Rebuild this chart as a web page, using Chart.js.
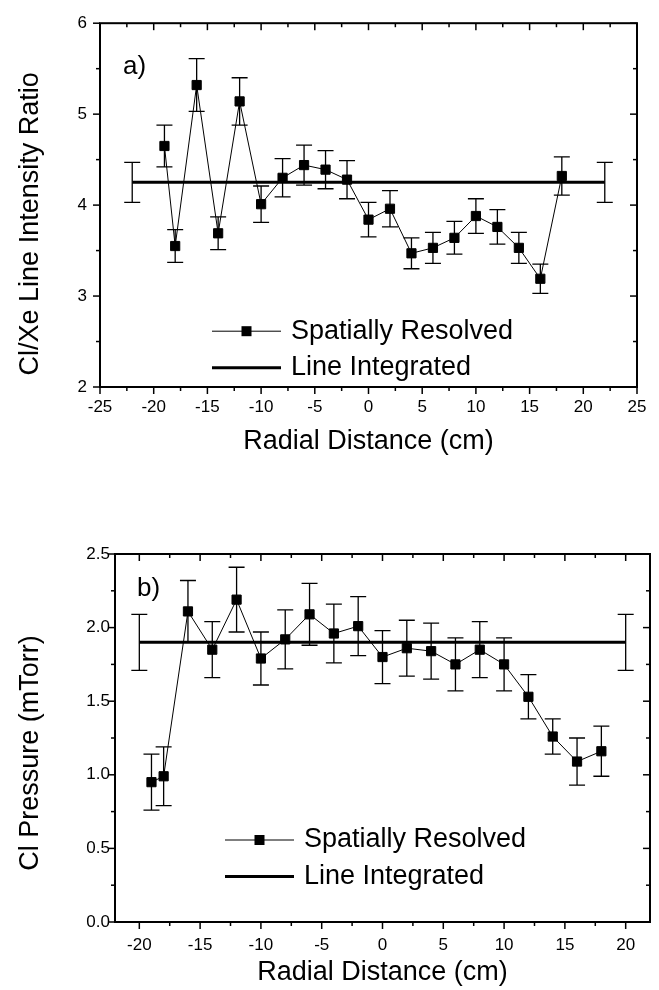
<!DOCTYPE html>
<html>
<head>
<meta charset="utf-8">
<title>Cl/Xe line intensity ratio and Cl pressure</title>
<script src="https://cdn.jsdelivr.net/npm/chart.js@4.4.1/dist/chart.umd.min.js"></script>
<style>
  body { margin: 0; background: #fff; }
  canvas { position: absolute; left: 0; }
  #top { top: 0; }
  #bottom { top: 470px; }
</style>
</head>
<body>
<canvas id="top" width="659" height="470"></canvas>
<canvas id="bottom" width="659" height="520"></canvas>
<script>
// radial positions of the spatially resolved points (cm)
const radius = [-19, -18, -16, -14, -12, -10, -8, -6, -4, -2, 0, 2, 4, 6, 8, 10, 12, 14, 16, 18];

// panel a) Cl/Xe line intensity ratio
const ratio    = [4.65, 3.55, 5.32, 3.69, 5.14, 4.01, 4.30, 4.44, 4.39, 4.28, 3.84, 3.96, 3.47, 3.53, 3.64, 3.88, 3.76, 3.53, 3.19, 4.32];
const ratioErr = [0.23, 0.18, 0.29, 0.18, 0.26, 0.20, 0.21, 0.22, 0.21, 0.21, 0.19, 0.20, 0.17, 0.17, 0.18, 0.19, 0.19, 0.17, 0.16, 0.21];
const ratioLineX = [-22, 22];
const ratioLine = 4.25;
const ratioLineErr = 0.22;

// panel b) Cl pressure (mTorr)
const pressure    = [0.95, 0.99, 2.11, 1.85, 2.19, 1.79, 1.92, 2.09, 1.96, 2.01, 1.80, 1.86, 1.84, 1.75, 1.85, 1.75, 1.53, 1.26, 1.09, 1.16];
const pressureErr = [0.19, 0.20, 0.21, 0.19, 0.22, 0.18, 0.20, 0.21, 0.20, 0.20, 0.18, 0.19, 0.19, 0.18, 0.19, 0.18, 0.15, 0.12, 0.16, 0.17];
const pressureLineX = [-20, 20];
const pressureLine = 1.90;
const pressureLineErr = 0.19;

const FONT = "'Liberation Sans', Arial, sans-serif";
Chart.defaults.font.family = FONT;
Chart.defaults.color = '#000';

// error bars, frame ticks, legend inside the plot and the panel letter
const panelDecor = {
  id: 'panelDecor',
  beforeDatasetsDraw(chart) {
    const {ctx, scales: {x, y}} = chart;
    ctx.save();
    ctx.strokeStyle = '#000';
    ctx.lineWidth = 1.3;
    chart.data.datasets.forEach(ds => {
      if (!ds.errors) return;
      ds.data.forEach((p, i) => {
        const e = ds.errors[i];
        if (!e) return;
        const px = x.getPixelForValue(p.x);
        const y1 = y.getPixelForValue(p.y + e);
        const y2 = y.getPixelForValue(p.y - e);
        ctx.beginPath();
        ctx.moveTo(px, y1); ctx.lineTo(px, y2);
        ctx.moveTo(px - 8, y1); ctx.lineTo(px + 8, y1);
        ctx.moveTo(px - 8, y2); ctx.lineTo(px + 8, y2);
        ctx.stroke();
      });
    });
    ctx.restore();
  },
  afterDraw(chart) {
    const {ctx, chartArea: a, scales: {x, y}} = chart;
    const o = chart.options.plugins.panelDecor;
    const seg = (x1, y1, x2, y2) => { ctx.beginPath(); ctx.moveTo(x1, y1); ctx.lineTo(x2, y2); ctx.stroke(); };
    ctx.save();
    ctx.strokeStyle = '#000';
    ctx.fillStyle = '#000';
    ctx.lineWidth = 2;
    ctx.strokeRect(a.left, a.top, a.width, a.height);

    ctx.lineWidth = 1.5;
    x.ticks.forEach(t => {
      const px = x.getPixelForValue(t.value);
      const len = Math.abs(t.value % 5) < 1e-6 ? 7 : 4;
      seg(px, a.bottom, px, a.bottom + len);
      seg(px, a.top, px, a.top + len);
    });
    y.ticks.forEach(t => {
      const py = y.getPixelForValue(t.value);
      const r = t.value / o.majorY;
      const len = Math.abs(r - Math.round(r)) < 1e-6 ? 7 : 4;
      seg(a.left - len, py, a.left, py);
      seg(a.right - len, py, a.right, py);
    });

    // legend
    ctx.font = '27px ' + FONT;
    ctx.textBaseline = 'middle';
    chart.data.datasets.forEach((ds, i) => {
      const lx = a.left + o.legendX;
      const ly = a.top + o.legendY + i * 36.5;
      ctx.lineWidth = ds.borderWidth;
      seg(lx, ly, lx + 69, ly);
      if (ds.pointRadius) ctx.fillRect(lx + 29.5, ly - 5, 10, 10);
      ctx.fillText(ds.label, lx + 79, ly);
    });

    // panel letter
    ctx.font = '26px ' + FONT;
    ctx.textBaseline = 'alphabetic';
    ctx.fillText(o.letter, a.left + o.letterX, a.top + o.letterY);
    ctx.restore();
  }
};

function makePanel(id, cfg) {
  const points = radius.map((r, i) => ({x: r, y: cfg.values[i]}));
  const line = cfg.lineX.map(r => ({x: r, y: cfg.line}));
  return new Chart(document.getElementById(id), {
    type: 'line',
    data: {
      datasets: [{
        label: 'Spatially Resolved',
        data: points,
        errors: cfg.errors,
        borderColor: '#000',
        borderWidth: 1,
        pointStyle: 'rect',
        pointRadius: 6.5,
        pointBorderWidth: 1,
        pointBackgroundColor: '#000',
        pointBorderColor: '#000'
      }, {
        label: 'Line Integrated',
        data: line,
        errors: cfg.lineX.map(() => cfg.lineErr),
        borderColor: '#000',
        borderWidth: 3,
        pointRadius: 0
      }]
    },
    options: {
      responsive: false,
      animation: false,
      events: [],
      layout: {padding: {left: 0, top: cfg.top, right: cfg.right, bottom: 0}},
      plugins: {
        legend: {display: false},
        tooltip: {enabled: false},
        panelDecor: cfg.decor
      },
      scales: {
        x: {
          type: 'linear',
          min: cfg.xMin,
          max: cfg.xMax,
          afterFit: s => { s.height = cfg.xHeight; },
          grid: {drawOnChartArea: false, drawTicks: false},
          border: {display: false},
          ticks: {
            stepSize: 2.5,
            includeBounds: false,
            autoSkip: false,
            maxRotation: 0,
            padding: cfg.xPad,
            font: {size: 17},
            callback: v => Math.abs(v % 5) < 1e-6 ? String(v) : ''
          },
          title: {
            display: true,
            text: 'Radial Distance (cm)',
            font: {size: 27},
            padding: {top: 0, bottom: cfg.xTitlePad}
          }
        },
        y: {
          type: 'linear',
          min: cfg.yMin,
          max: cfg.yMax,
          afterFit: s => { s.width = cfg.yWidth; },
          grid: {drawOnChartArea: false, drawTicks: false},
          border: {display: false},
          ticks: {
            stepSize: cfg.yStep,
            autoSkip: false,
            padding: cfg.yPad,
            font: {size: 17},
            callback: cfg.yLabel
          },
          title: {
            display: true,
            // trailing no-break spaces push the rotated title a little below the axis centre, as in the original
            text: cfg.yTitle + '\u00a0'.repeat(cfg.yTitleShift),
            font: {size: 27},
            padding: {top: 14, bottom: 0}
          }
        }
      }
    },
    plugins: [panelDecor]
  });
}

makePanel('top', {
  values: ratio, errors: ratioErr,
  lineX: ratioLineX, line: ratioLine, lineErr: ratioLineErr,
  xMin: -25, xMax: 25, yMin: 2, yMax: 6, yStep: 0.5,
  yLabel: v => Number.isInteger(v) ? String(v) : '',
  yTitle: 'Cl/Xe Line Intensity Ratio', yTitleShift: 5,
  top: 17, right: 22, yWidth: 100, xHeight: 83,
  xPad: 10, yPad: 13, xTitlePad: 12,
  decor: {majorY: 1, legendX: 112, legendY: 308, letter: 'a)', letterX: 23, letterY: 51}
});

makePanel('bottom', {
  values: pressure, errors: pressureErr,
  lineX: pressureLineX, line: pressureLine, lineErr: pressureLineErr,
  xMin: -22, xMax: 22, yMin: 0, yMax: 2.5, yStep: 0.25,
  yLabel: v => Math.abs(v * 2 - Math.round(v * 2)) < 1e-6 ? v.toFixed(1) : '',
  yTitle: 'Cl Pressure (mTorr)', yTitleShift: 4,
  top: 84, right: 9, yWidth: 115, xHeight: 68,
  xPad: 13, yPad: 5, xTitlePad: 1,
  decor: {majorY: 0.5, legendX: 110, legendY: 286, letter: 'b)', letterX: 22, letterY: 42}
});
</script>
</body>
</html>
